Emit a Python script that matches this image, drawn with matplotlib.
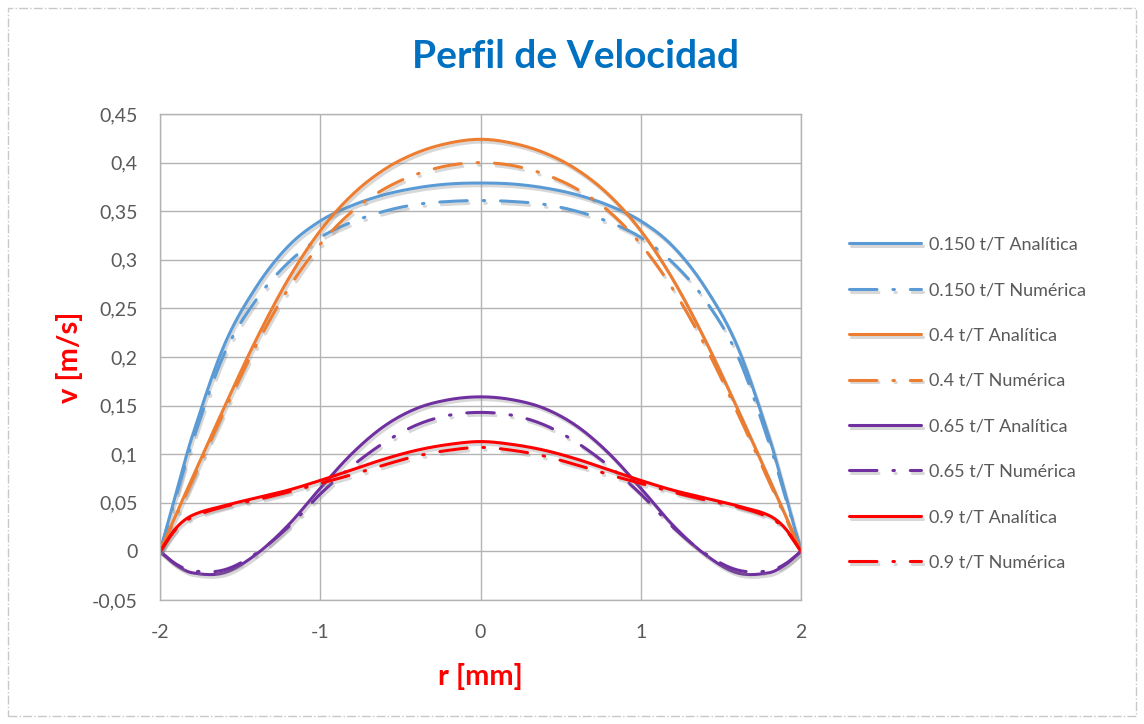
import numpy as np
import matplotlib
matplotlib.use("Agg")
import matplotlib.pyplot as plt
import matplotlib.patheffects as pe
from matplotlib.patches import Rectangle
from matplotlib.ticker import FuncFormatter

plt.rcParams['font.family'] = ['Lato', 'DejaVu Sans']

# radio [mm]
r = [-2.0, -1.9, -1.8, -1.6, -1.4, -1.2, -1.0, -0.8, -0.6, -0.4, -0.2, 0.0,
     0.2, 0.4, 0.6, 0.8, 1.0, 1.2, 1.4, 1.6, 1.8, 1.9, 2.0]

# velocidad [m/s]
a150 = [0, 0.060, 0.118, 0.212, 0.272, 0.314, 0.340, 0.356, 0.367, 0.374, 0.378, 0.379,
        0.378, 0.374, 0.367, 0.356, 0.340, 0.314, 0.272, 0.212, 0.118, 0.060, 0]
n150 = [0, 0.057, 0.112, 0.203, 0.259, 0.297, 0.323, 0.339, 0.350, 0.357, 0.360, 0.361,
        0.360, 0.357, 0.350, 0.339, 0.323, 0.297, 0.259, 0.203, 0.112, 0.057, 0]
a400 = [0, 0.038, 0.075, 0.148, 0.218, 0.280, 0.330, 0.367, 0.393, 0.410, 0.420, 0.424,
        0.420, 0.410, 0.393, 0.367, 0.330, 0.280, 0.218, 0.148, 0.075, 0.038, 0]
n400 = [0, 0.036, 0.072, 0.144, 0.212, 0.270, 0.316, 0.350, 0.373, 0.388, 0.397, 0.400,
        0.397, 0.388, 0.373, 0.350, 0.316, 0.270, 0.212, 0.144, 0.072, 0.036, 0]
a650 = [0, -0.014, -0.022, -0.022, -0.003, 0.027, 0.065, 0.101, 0.129, 0.147, 0.156, 0.159,
        0.156, 0.147, 0.129, 0.101, 0.065, 0.027, -0.003, -0.022, -0.022, -0.014, 0]
n650 = [0, -0.013, -0.020, -0.019, -0.002, 0.025, 0.059, 0.088, 0.112, 0.130, 0.140, 0.143,
        0.140, 0.130, 0.112, 0.088, 0.059, 0.025, -0.002, -0.019, -0.020, -0.013, 0]
a900 = [0, 0.024, 0.037, 0.047, 0.055, 0.063, 0.073, 0.084, 0.095, 0.104, 0.110, 0.113,
        0.110, 0.104, 0.095, 0.084, 0.073, 0.063, 0.055, 0.047, 0.037, 0.024, 0]
n900 = [0, 0.023, 0.035, 0.046, 0.053, 0.061, 0.070, 0.079, 0.089, 0.098, 0.104, 0.107,
        0.104, 0.098, 0.089, 0.079, 0.070, 0.061, 0.053, 0.046, 0.035, 0.023, 0]

series = [
    ("0.150 t/T Analítica", a150, "#5B9BD5", "-"),
    ("0.150 t/T Numérica", n150, "#5B9BD5", "--"),
    ("0.4 t/T Analítica", a400, "#ED7D31", "-"),
    ("0.4 t/T Numérica", n400, "#ED7D31", "--"),
    ("0.65 t/T Analítica", a650, "#7030A0", "-"),
    ("0.65 t/T Numérica", n650, "#7030A0", "--"),
    ("0.9 t/T Analítica", a900, "#FF0000", "-"),
    ("0.9 t/T Numérica", n900, "#FF0000", "--"),
]


def suavizar(x, y, n=16):
    # linea suavizada tipo Excel (Hermite cubica, paso no uniforme)
    x = np.asarray(x, float)
    y = np.asarray(y, float)
    px = np.concatenate([[2 * x[0] - x[1]], x, [2 * x[-1] - x[-2]]])
    py_ = np.concatenate([[2 * y[0] - y[1]], y, [2 * y[-1] - y[-2]]])
    xs, ys = [], []
    t = np.linspace(0, 1, n, endpoint=False)
    for i in range(1, len(px) - 2):
        h0 = px[i] - px[i - 1]
        h1 = px[i + 1] - px[i]
        h2 = px[i + 2] - px[i + 1]
        m1 = (py_[i + 1] - py_[i - 1]) / (h0 + h1) * h1
        m2 = (py_[i + 2] - py_[i]) / (h1 + h2) * h1
        h00 = 2 * t ** 3 - 3 * t ** 2 + 1
        h10 = t ** 3 - 2 * t ** 2 + t
        h01 = -2 * t ** 3 + 3 * t ** 2
        h11 = t ** 3 - t ** 2
        xs.append(px[i] + h1 * t)
        ys.append(h00 * py_[i] + h10 * m1 + h01 * py_[i + 1] + h11 * m2)
    xs.append([x[-1]])
    ys.append([y[-1]])
    return np.concatenate(xs), np.concatenate(ys)


fig = plt.figure(figsize=(11.44, 7.24), dpi=100)
ax = fig.add_axes([0.1399, 0.1713, 0.5603, 0.6712])

sombra = [pe.SimpleLineShadow(offset=(1.2, -2), shadow_color="gray", alpha=0.3),
          pe.Normal()]

for nombre, v, color, estilo in series:
    xs, ys = suavizar(r, v)
    line, = ax.plot(xs, ys, color=color, lw=2.2, label=nombre,
                    solid_capstyle="round", path_effects=sombra)
    if estilo == "--":
        line.set_dashes((9, 5.2, 0.5, 5.2))
        line.set_dash_capstyle("round")

ax.set_xlim(-2, 2)
ax.set_ylim(-0.05, 0.45)
ax.set_xticks([-2, -1, 0, 1, 2])
ax.set_yticks(np.arange(-0.05, 0.451, 0.05))
ax.xaxis.set_major_formatter(FuncFormatter(lambda v, p: f"{v:.0f}".replace("−", "-")))
ax.yaxis.set_major_formatter(FuncFormatter(
    lambda v, p: "0" if abs(v) < 1e-9 else f"{v:.2f}".rstrip("0").replace(".", ",")))
ax.grid(True, color="#b3b3b3", lw=1)
ax.set_axisbelow(True)
for s in ax.spines.values():
    s.set_color("#b3b3b3")
    s.set_linewidth(1)
ax.tick_params(length=0, labelsize=14, colors="#595959")
ax.tick_params(axis="y", pad=16)
ax.tick_params(axis="x", pad=17)

ax.set_xlabel("r [mm]", color="#FF0000", fontsize=21, fontweight="bold", va="baseline")
ax.xaxis.set_label_coords(0.5, -0.175)
ax.set_ylabel("v [m/s]", color="#FF0000", fontsize=21, fontweight="bold", va="baseline")
ax.yaxis.set_label_coords(-0.128, 0.5)
fig.text(0.503, 0.906, "Perfil de Velocidad", color="#0070C0", fontsize=28,
         fontweight="bold", ha="center", va="baseline")

leg = ax.legend(loc="center left", bbox_to_anchor=(1.075, 0.404), frameon=False,
                fontsize=13, labelcolor="#595959", handlelength=4.0,
                labelspacing=1.63, handletextpad=0.45, borderaxespad=0,
                borderpad=0)

fig.patches.append(Rectangle((0.007, 0.011), 0.986, 0.978, transform=fig.transFigure,
                             fill=False, ec="#c8c8c8", lw=1, ls="-."))

fig.savefig("out.png", dpi=100, facecolor="white")
